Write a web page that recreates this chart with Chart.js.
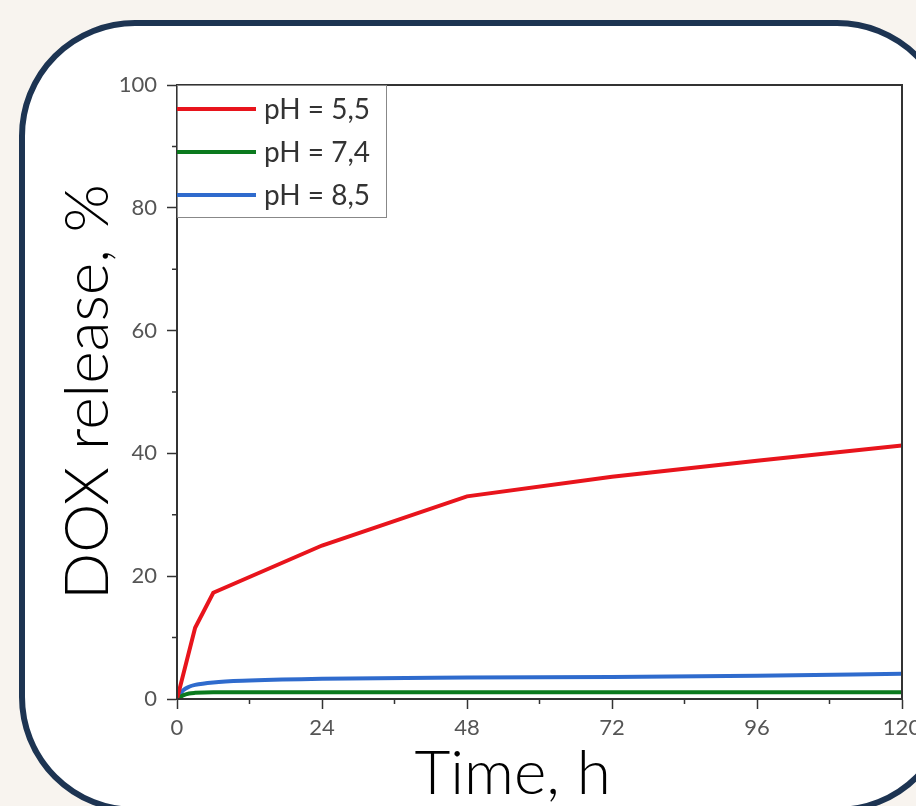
<!DOCTYPE html>
<html>
<head>
<meta charset="utf-8">
<script src="https://cdn.jsdelivr.net/npm/chart.js@4.4.1/dist/chart.umd.min.js"></script>
<style>
  html, body { margin: 0; padding: 0; background: #f8f4ef; overflow: hidden; }
  .card {
    position: absolute; left: 19px; top: 20px; width: 922px; height: 781px;
    border: 6px solid #1d3452; border-radius: 116px; background: #fff;
  }
  #chart { position: absolute; left: 0; top: 0; }
</style>
</head>
<body>
<div class="card"></div>
<canvas id="chart" width="916" height="806"></canvas>
<script>
(() => {
  'use strict'

  // release data
  const time_acid = [0, 3, 6, 24, 48, 72, 96, 120];
  const release_55 = [0, 11.6, 17.3, 25, 33, 36.2, 38.8, 41.3];

  const time_neutral = [0, 1, 2, 3, 6, 12, 24, 48, 72, 96, 120];
  const release_74 = [0, 0.6, 0.9, 1.0, 1.1, 1.1, 1.1, 1.1, 1.1, 1.1, 1.1];
  const release_85 = [0, 1.4, 2.0, 2.3, 2.7, 3.0, 3.3, 3.5, 3.6, 3.8, 4.1];

  const series_labels = ['pH = 5,5', 'pH = 7,4', 'pH = 8,5'];
  const x_ticks = [0, 24, 48, 72, 96, 120];
  const y_ticks = [0, 20, 40, 60, 80, 100];
  const x_minor = [12, 36, 60, 84, 108];
  const y_minor = [10, 30, 50, 70, 90];
  const x_title = 'Time, h';
  const y_title = 'DOX release, %';

  const toPoints = (xs, ys) => xs.map((x, i) => ({ x: x, y: ys[i] }));

  const tickFont = { family: 'Lato', size: 22 };
  const axisColor = '#333';

  // frame, minor ticks, legend box and x title
  const decorations = {
    id: 'decorations',
    afterDraw(chart) {
      const { ctx, chartArea, scales } = chart;
      const { left, top, right, bottom } = chartArea;
      ctx.save();
      ctx.strokeStyle = axisColor;
      ctx.lineWidth = 2;
      ctx.strokeRect(left, top, right - left, bottom - top);

      ctx.lineWidth = 1.5;
      ctx.beginPath();
      y_minor.forEach(v => {
        const y = scales.y.getPixelForValue(v);
        ctx.moveTo(left - 5, y); ctx.lineTo(left, y);
      });
      x_minor.forEach(v => {
        const x = scales.x.getPixelForValue(v);
        ctx.moveTo(x, bottom); ctx.lineTo(x, bottom + 5);
      });
      ctx.stroke();

      // legend in the top left corner
      const boxW = 209, boxH = 132;
      ctx.fillStyle = '#fff';
      ctx.fillRect(left + 1, top + 1, boxW - 1, boxH - 1);
      ctx.strokeStyle = '#888';
      ctx.lineWidth = 1;
      ctx.strokeRect(left + 0.5, top + 0.5, boxW, boxH);
      ctx.font = '28px Lato';
      ctx.textBaseline = 'middle';
      chart.data.datasets.forEach((ds, i) => {
        const y = top + 24 + i * 43;
        ctx.strokeStyle = ds.borderColor;
        ctx.lineWidth = 4;
        ctx.beginPath();
        ctx.moveTo(left, y); ctx.lineTo(left + 79, y);
        ctx.stroke();
        ctx.fillStyle = '#333';
        ctx.fillText(ds.label, left + 87, y + 1);
      });

      // x axis title, set a little left of centre as in the figure
      ctx.font = '300 62px Lato';
      ctx.fillStyle = '#000';
      ctx.textAlign = 'center';
      ctx.fillText(x_title, left + (right - left) * 0.463, 774);
      ctx.restore();
    }
  };

  const ctx = document.getElementById('chart');
  // eslint-disable-next-line no-unused-vars
  const myChart = new Chart(ctx, {
    type: 'line',
    data: {
      datasets: [{
        label: series_labels[0],
        data: toPoints(time_acid, release_55),
        borderColor: '#e8141c',
        borderWidth: 4,
        tension: 0
      }, {
        label: series_labels[1],
        data: toPoints(time_neutral, release_74),
        borderColor: '#0b7a1e',
        borderWidth: 4,
        cubicInterpolationMode: 'monotone'
      }, {
        label: series_labels[2],
        data: toPoints(time_neutral, release_85),
        borderColor: '#2f6bcd',
        borderWidth: 4,
        cubicInterpolationMode: 'monotone'
      }]
    },
    options: {
      responsive: false,
      animation: false,
      layout: { padding: { top: 85, right: 14, bottom: 0, left: 0 } },
      elements: { point: { radius: 0 } },
      plugins: {
        legend: { display: false },
        tooltip: { enabled: false }
      },
      scales: {
        x: {
          type: 'linear',
          min: 0,
          max: 120,
          afterBuildTicks: scale => { scale.ticks = x_ticks.map(v => ({ value: v })); },
          afterFit: scale => { scale.height = 107; scale.paddingRight = 0; scale.paddingLeft = 0; },
          grid: { drawOnChartArea: false, tickLength: 10, tickColor: axisColor, tickWidth: 1.5 },
          border: { color: axisColor, width: 2 },
          ticks: { font: tickFont, color: '#555', padding: 6, maxRotation: 0 }
        },
        y: {
          min: 0,
          max: 100,
          afterBuildTicks: scale => { scale.ticks = y_ticks.map(v => ({ value: v })); },
          afterFit: scale => { scale.width = 177; },
          grid: { drawOnChartArea: false, tickLength: 10, tickColor: axisColor, tickWidth: 1.5 },
          border: { color: axisColor, width: 2 },
          ticks: { font: tickFont, color: '#555', padding: 10 },
          title: {
            display: true,
            text: y_title,
            color: '#000',
            font: { family: 'Lato', size: 62, weight: '300', lineHeight: 1 },
            padding: { top: 57, bottom: 0 }
          }
        }
      }
    },
    plugins: [decorations]
  });
})()
</script>
</body>
</html>
